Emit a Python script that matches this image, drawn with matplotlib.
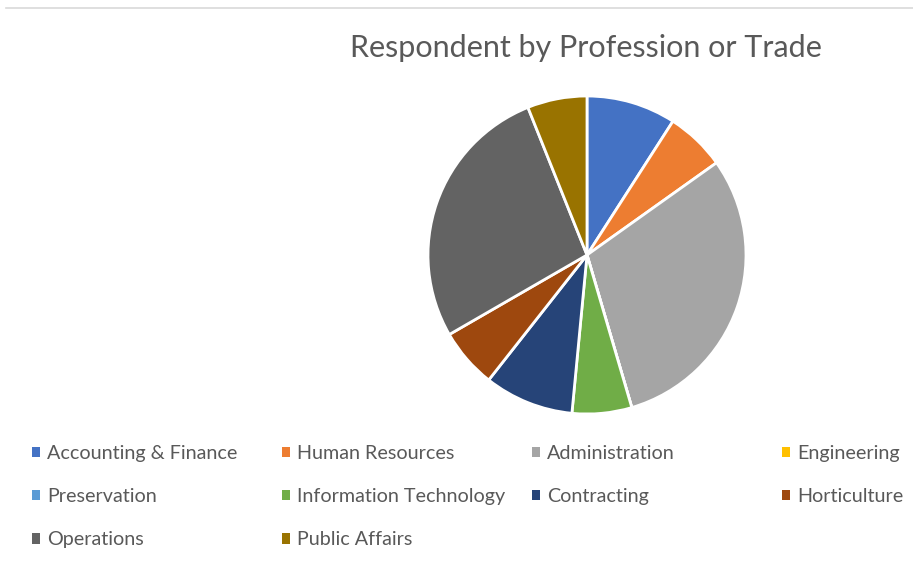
import matplotlib.pyplot as plt
from matplotlib.lines import Line2D

# Survey answers: respondents per profession / trade
professions = ["Accounting & Finance", "Human Resources", "Administration", "Engineering",
               "Preservation", "Information Technology", "Contracting", "Horticulture",
               "Operations", "Public Affairs"]
counts = [3, 2, 10, 0, 0, 2, 3, 2, 9, 2]
colors = ["#4472C4", "#ED7D31", "#A5A5A5", "#FFC000", "#5B9BD5",
          "#70AD47", "#264478", "#9E480E", "#636363", "#997300"]

plt.rcParams['font.family'] = ['Lato', 'DejaVu Sans']
text_color = "#595959"

fig = plt.figure(figsize=(9.13, 5.72), dpi=100)

# thin grey frame line along the top
fig.add_artist(Line2D([6 / 913, 1], [1 - 7.5 / 572, 1 - 7.5 / 572], color="#D9D9D9", lw=1.2))

ax = fig.add_axes([428 / 913, 158 / 572, 318 / 913, 318 / 572])
wedges, _ = ax.pie(counts, colors=colors, startangle=90, counterclock=False, radius=1,
                   wedgeprops=dict(edgecolor="white", linewidth=2))
ax.set_xlim(-1, 1)
ax.set_ylim(-1, 1)
ax.set_aspect("equal")

fig.text(586 / 913, 1 - 48 / 572, "Respondent by Profession or Trade", ha="center", va="center",
         fontsize=22, color=text_color)

# legend laid out row by row in four evenly spaced columns
col_x = [32, 282, 532, 782]
for c in range(4):
    idx = list(range(c, len(professions), 4))
    leg = fig.legend([wedges[i] for i in idx], [professions[i] for i in idx],
                     loc="upper left", bbox_to_anchor=(col_x[c] / 913, 1 - 445 / 572),
                     frameon=False, fontsize=14.2, handlelength=0.42, handleheight=0.42,
                     handletextpad=0.33, labelspacing=1.33, borderaxespad=0, borderpad=0)
    for t in leg.get_texts():
        t.set_color(text_color)
    for h in leg.legend_handles:
        h.set_edgecolor("none")

fig.savefig("out.png", dpi=100)
